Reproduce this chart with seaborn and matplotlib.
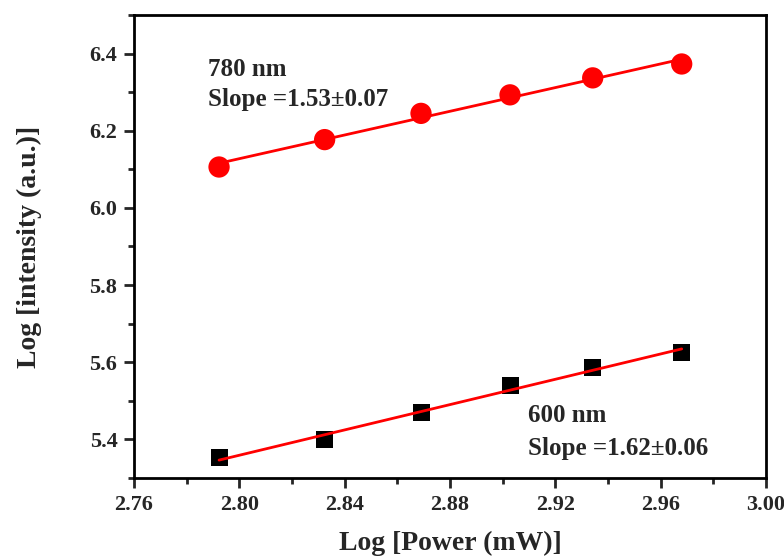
import matplotlib
matplotlib.use("Agg")
import matplotlib.pyplot as plt
import seaborn as sns
import pandas as pd
from matplotlib.ticker import MultipleLocator

# data
log_power = [2.7923, 2.8324, 2.8690, 2.9028, 2.9342, 2.9680]
log_int_780 = [6.106, 6.177, 6.245, 6.293, 6.337, 6.373]
log_int_600 = [5.352, 5.399, 5.469, 5.541, 5.586, 5.625]
x_ticks = [2.76, 2.80, 2.84, 2.88, 2.92, 2.96, 3.00]
y_ticks = [5.4, 5.6, 5.8, 6.0, 6.2, 6.4]

sns.set_theme(style="ticks")
plt.rcParams['font.family'] = ['Liberation Serif', 'DejaVu Serif']
plt.rcParams['font.weight'] = 'bold'

df780 = pd.DataFrame({"x": log_power, "y": log_int_780})
df600 = pd.DataFrame({"x": log_power, "y": log_int_600})

fig = plt.figure(figsize=(7.84, 5.59), dpi=100)
ax = fig.add_axes([0.1709, 0.1449, 0.8061, 0.8283])

sns.regplot(data=df780, x="x", y="y", ax=ax, ci=None, marker="o",
            scatter_kws=dict(s=235, color="#ff0000", edgecolor="none", alpha=1, zorder=3),
            line_kws=dict(color="#ff0000", linewidth=2, zorder=2))
sns.regplot(data=df600, x="x", y="y", ax=ax, ci=None, marker="s",
            scatter_kws=dict(s=150, color="black", edgecolor="none", alpha=1, zorder=2),
            line_kws=dict(color="#ff0000", linewidth=2, zorder=3))

ax.set_xlim(2.76, 3.00)
ax.set_ylim(5.3, 6.5)
ax.set_xticks(x_ticks)
ax.set_yticks(y_ticks)
ax.set_xticklabels([f"{v:.2f}" for v in x_ticks])
ax.set_yticklabels([f"{v:.1f}" for v in y_ticks])
ax.xaxis.set_minor_locator(MultipleLocator(0.02))
ax.yaxis.set_minor_locator(MultipleLocator(0.1))
ax.tick_params(which="major", direction="out", length=7, width=2, labelsize=16,
               pad=5, top=False, right=False)
ax.tick_params(which="minor", direction="out", length=4, width=2,
               top=False, right=False)
for lab in ax.get_xticklabels() + ax.get_yticklabels():
    lab.set_fontweight("bold")
for sp in ax.spines.values():
    sp.set_linewidth(2)
    sp.set_color("black")

ax.set_xlabel("Log [Power (mW)]", fontsize=20, fontweight="bold", labelpad=12)
ax.set_ylabel("Log [intensity (a.u.)]", fontsize=20, fontweight="bold", labelpad=34)

ax.text(2.788, 6.358, "780 nm", fontsize=18, fontweight="bold", va="center", ha="left")
ax.text(2.788, 6.28, "Slope =1.53\u00b10.07", fontsize=18, fontweight="bold", va="center", ha="left")
ax.text(2.9097, 5.463, "600 nm", fontsize=18, fontweight="bold", va="center", ha="left")
ax.text(2.9097, 5.377, "Slope =1.62\u00b10.06", fontsize=18, fontweight="bold", va="center", ha="left")

fig.savefig("out.png", dpi=100)
